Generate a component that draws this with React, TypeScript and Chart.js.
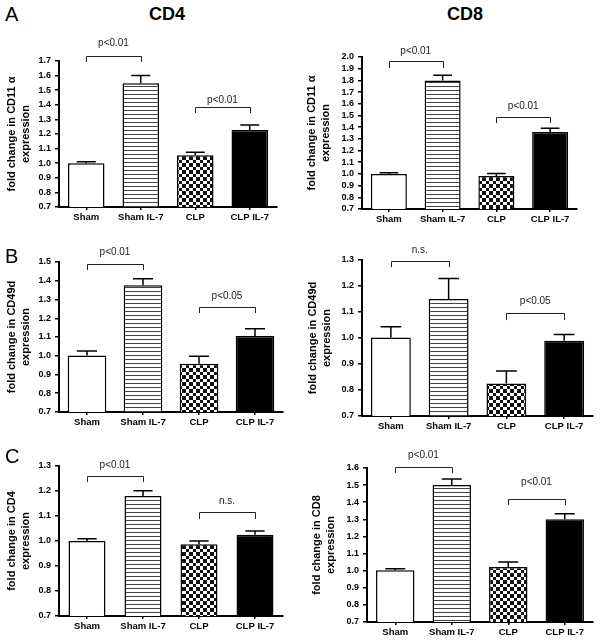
import React, { useEffect, useRef } from 'react';
import { Chart, registerables } from 'chart.js';

Chart.register(...registerables);

const FONT = '"Liberation Sans", Arial, Helvetica, sans-serif';

// ---------------- data ----------------
const categories = ['Sham', 'Sham IL-7', 'CLP', 'CLP IL-7'];

// Panel A: CD11a
const cd4Cd11aMeans = [1.0, 1.547, 1.054, 1.227];
const cd4Cd11aSem = [0.01, 0.053, 0.021, 0.035];
const cd8Cd11aMeans = [1.0, 1.8, 0.983, 1.359];
const cd8Cd11aSem = [0.01, 0.043, 0.02, 0.031];

// Panel B: CD49d
const cd4Cd49dMeans = [1.002, 1.376, 0.958, 1.105];
const cd4Cd49dSem = [0.023, 0.035, 0.04, 0.039];
const cd8Cd49dMeans = [1.002, 1.15, 0.825, 0.989];
const cd8Cd49dSem = [0.041, 0.079, 0.048, 0.024];

// Panel C: CD4 / CD8 expression
const cd4ExprMeans = [1.0, 1.18, 0.987, 1.025];
const cd4ExprSem = [0.009, 0.021, 0.013, 0.015];
const cd8ExprMeans = [1.003, 1.5, 1.021, 1.3];
const cd8ExprSem = [0.008, 0.035, 0.029, 0.032];

// y-axis ranges
const yMin = 0.7;
const yMaxA4 = 1.7;
const yMaxA8 = 2.0;
const yMaxB4 = 1.5;
const yMaxB8 = 1.3;
const yMaxC4 = 1.3;
const yMaxC8 = 1.6;

// significance brackets: [fromIndex, toIndex, bracket level, drop level, label level, label]
type Bracket = [number, number, number, number, number, string];
const bracketsA4: Bracket[] = [
  [0, 1, 1.734, 1.693, 1.82, 'p<0.01'],
  [2, 3, 1.385, 1.344, 1.433, 'p<0.01'],
];
const bracketsA8: Bracket[] = [
  [0, 1, 1.966, 1.906, 2.045, 'p<0.01'],
  [2, 3, 1.487, 1.436, 1.575, 'p<0.01'],
];
const bracketsB4: Bracket[] = [
  [0, 1, 1.489, 1.457, 1.551, 'p<0.01'],
  [2, 3, 1.26, 1.228, 1.319, 'p<0.05'],
];
const bracketsB8: Bracket[] = [
  [0, 1, 1.296, 1.273, 1.338, 'n.s.'],
  [2, 3, 1.096, 1.069, 1.14, 'p<0.05'],
];
const bracketsC4: Bracket[] = [
  [0, 1, 1.26, 1.236, 1.304, 'p<0.01'],
  [2, 3, 1.116, 1.088, 1.158, 'n.s.'],
];
const bracketsC8: Bracket[] = [
  [0, 1, 1.606, 1.571, 1.673, 'p<0.01'],
  [2, 3, 1.419, 1.384, 1.515, 'p<0.01'],
];

// ---------------- patterns ----------------
function makeStripes(ctx: CanvasRenderingContext2D): CanvasPattern | string {
  const c = document.createElement('canvas');
  c.width = 4;
  c.height = 4;
  const g = c.getContext('2d');
  if (!g) return '#bbb';
  g.fillStyle = '#fff';
  g.fillRect(0, 0, 4, 4);
  g.fillStyle = '#444';
  g.fillRect(0, 0, 4, 1);
  return ctx.createPattern(c, 'repeat') || '#bbb';
}

function makeChecker(ctx: CanvasRenderingContext2D): CanvasPattern | string {
  const c = document.createElement('canvas');
  c.width = 7;
  c.height = 7;
  const g = c.getContext('2d');
  if (!g) return '#888';
  g.fillStyle = '#fff';
  g.fillRect(0, 0, 7, 7);
  g.fillStyle = '#111';
  g.fillRect(0, 0, 4, 4);
  g.fillRect(4, 4, 3, 3);
  return ctx.createPattern(c, 'repeat') || '#888';
}

// ---------------- panel ----------------
type PanelProps = {
  left: number;
  top: number;
  width: number;
  height: number;
  axisWidth: number;
  padTop: number;
  padRight: number;
  xAxisHeight: number;
  titlePad: number;
  barPct: number;
  means: number[];
  sem: number[];
  yMax: number;
  yTitle: string[];
  brackets: Bracket[];
};

function Panel(p: PanelProps) {
  const ref = useRef<HTMLCanvasElement | null>(null);

  useEffect(() => {
    const canvas = ref.current;
    if (!canvas) return;
    const ctx = canvas.getContext('2d');
    if (!ctx) return;

    const fills = ['#ffffff', makeStripes(ctx), makeChecker(ctx), '#000000'];

    const overlay = {
      id: 'errAndBrackets',
      afterDatasetsDraw(chart: any) {
        const c = chart.ctx as CanvasRenderingContext2D;
        const meta = chart.getDatasetMeta(0);
        const ys = chart.scales.y;
        c.save();
        // error bars (upper only)
        c.strokeStyle = '#000';
        c.lineWidth = 1.5;
        meta.data.forEach((el: any, i: number) => {
          const x = el.x;
          const yb = el.y;
          const yt = ys.getPixelForValue(p.means[i] + p.sem[i]);
          const hw = el.width * 0.26;
          c.beginPath();
          c.moveTo(x, yb);
          c.lineTo(x, yt);
          c.moveTo(x - hw, yt);
          c.lineTo(x + hw, yt);
          c.stroke();
        });
        // brackets
        c.strokeStyle = '#222';
        c.lineWidth = 1;
        c.fillStyle = '#222';
        c.font = `10px ${FONT}`;
        c.textAlign = 'center';
        c.textBaseline = 'middle';
        p.brackets.forEach(([a, b, lvl, drop, txt, label]) => {
          const x1 = meta.data[a].x;
          const x2 = meta.data[b].x;
          const yl = Math.round(ys.getPixelForValue(lvl)) + 0.5;
          const yd = ys.getPixelForValue(drop);
          c.beginPath();
          c.moveTo(Math.round(x1) + 0.5, yd);
          c.lineTo(Math.round(x1) + 0.5, yl);
          c.lineTo(Math.round(x2) + 0.5, yl);
          c.lineTo(Math.round(x2) + 0.5, yd);
          c.stroke();
          c.fillText(label, (x1 + x2) / 2, ys.getPixelForValue(txt));
        });
        c.restore();
      },
    };

    const chart = new Chart(ctx, {
      type: 'bar',
      data: {
        labels: categories,
        datasets: [
          {
            data: p.means,
            backgroundColor: fills as any,
            borderColor: '#000',
            borderWidth: 1.5,
            borderSkipped: false,
            barPercentage: p.barPct,
            categoryPercentage: 1,
          },
        ],
      },
      options: {
        responsive: false,
        animation: false,
        devicePixelRatio: 1,
        layout: {
          padding: { left: 0, top: p.padTop, right: p.padRight, bottom: 0 },
        },
        plugins: {
          legend: { display: false },
          tooltip: { enabled: false },
        },
        scales: {
          x: {
            offset: true,
            grid: {
              display: true,
              drawOnChartArea: false,
              drawTicks: true,
              tickLength: 3,
              offset: false,
              color: '#000',
              lineWidth: 1.5,
            },
            border: { display: true, color: '#000', width: 2 },
            ticks: {
              color: '#000',
              font: { family: FONT, size: 9.5, weight: 'bold' },
              padding: 2,
              maxRotation: 0,
              autoSkip: false,
            },
            afterFit: (s: any) => {
              s.height = p.xAxisHeight;
            },
          },
          y: {
            min: yMin,
            max: p.yMax,
            grid: {
              display: true,
              drawOnChartArea: false,
              drawTicks: true,
              tickLength: 4,
              color: '#000',
              lineWidth: 1.5,
            },
            border: { display: true, color: '#000', width: 2 },
            ticks: {
              stepSize: 0.1,
              autoSkip: false,
              color: '#000',
              font: { family: FONT, size: 9, weight: 'bold' },
              padding: 4,
              callback: (v: any) => Number(v).toFixed(1),
            },
            title: {
              display: true,
              text: p.yTitle,
              color: '#000',
              font: { family: FONT, size: 11, weight: 'bold', lineHeight: 1.27 },
              padding: { top: p.titlePad, bottom: 0 },
            },
            afterFit: (s: any) => {
              s.width = p.axisWidth;
            },
          },
        },
      } as any,
      plugins: [overlay],
    });

    return () => {
      chart.destroy();
    };
  }, []);

  return (
    <canvas
      ref={ref}
      width={p.width}
      height={p.height}
      style={{
        position: 'absolute',
        left: p.left,
        top: p.top,
        width: p.width,
        height: p.height,
      }}
    />
  );
}

const letterStyle: React.CSSProperties = {
  position: 'absolute',
  fontFamily: FONT,
  fontSize: 20,
  lineHeight: '20px',
  color: '#000',
};

const headStyle: React.CSSProperties = {
  position: 'absolute',
  fontFamily: FONT,
  fontSize: 18,
  fontWeight: 'bold',
  lineHeight: '18px',
  width: 100,
  textAlign: 'center',
  color: '#000',
};

export default function App() {
  return (
    <div
      style={{
        position: 'absolute',
        left: 0,
        top: 0,
        width: 603,
        height: 641,
        background: '#fff',
        overflow: 'hidden',
      }}
    >
      <Panel
        left={0} top={30} width={292} height={202}
        axisWidth={59} padTop={31} padRight={15} xAxisHeight={25} titlePad={5} barPct={0.67}
        means={cd4Cd11aMeans} sem={cd4Cd11aSem} yMax={yMaxA4}
        yTitle={['fold change in CD11 α', 'expression']} brackets={bracketsA4}
      />
      <Panel
        left={300} top={30} width={303} height={204}
        axisWidth={62} padTop={27} padRight={26} xAxisHeight={25} titlePad={5} barPct={0.67}
        means={cd8Cd11aMeans} sem={cd8Cd11aSem} yMax={yMaxA8}
        yTitle={['fold change in CD11 α', 'expression']} brackets={bracketsA8}
      />
      <Panel
        left={0} top={235} width={295} height={200}
        axisWidth={59} padTop={27} padRight={12} xAxisHeight={23} titlePad={5} barPct={0.69}
        means={cd4Cd49dMeans} sem={cd4Cd49dSem} yMax={yMaxB4}
        yTitle={['fold change in CD49d', 'expression']} brackets={bracketsB4}
      />
      <Panel
        left={300} top={235} width={303} height={205}
        axisWidth={62} padTop={25} padRight={10} xAxisHeight={24} titlePad={6} barPct={0.69}
        means={cd8Cd49dMeans} sem={cd8Cd49dSem} yMax={yMaxB8}
        yTitle={['fold change in CD49d', 'expression']} brackets={bracketsB8}
      />
      <Panel
        left={0} top={440} width={295} height={201}
        axisWidth={59} padTop={26} padRight={12} xAxisHeight={25} titlePad={5} barPct={0.66}
        means={cd4ExprMeans} sem={cd4ExprSem} yMax={yMaxC4}
        yTitle={['fold change in CD4', 'expression']} brackets={bracketsC4}
      />
      <Panel
        left={300} top={440} width={303} height={201}
        axisWidth={67} padTop={28} padRight={10} xAxisHeight={19} titlePad={10} barPct={0.68}
        means={cd8ExprMeans} sem={cd8ExprSem} yMax={yMaxC8}
        yTitle={['fold change in CD8', 'expression']} brackets={bracketsC8}
      />

      <div style={{ ...letterStyle, left: 5, top: 4 }}>A</div>
      <div style={{ ...letterStyle, left: 5, top: 246 }}>B</div>
      <div style={{ ...letterStyle, left: 5, top: 446 }}>C</div>
      <div style={{ ...headStyle, left: 117, top: 5 }}>CD4</div>
      <div style={{ ...headStyle, left: 415, top: 5 }}>CD8</div>
    </div>
  );
}
